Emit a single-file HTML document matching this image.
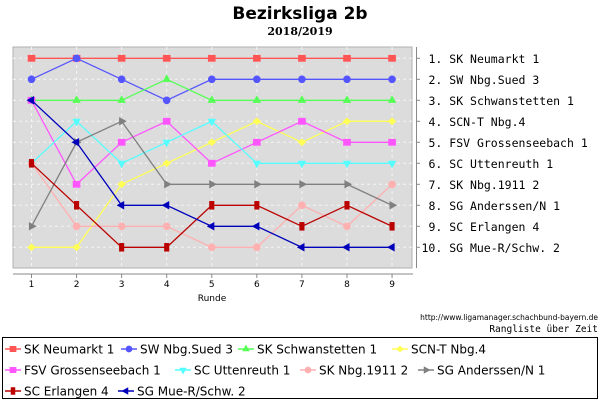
<!DOCTYPE html>
<html><head><meta charset="utf-8"><style>
html,body{margin:0;padding:0;background:#fff;width:600px;height:400px;overflow:hidden}
svg{display:block}
</style></head><body>
<svg width="600" height="400" xmlns="http://www.w3.org/2000/svg" font-family="DejaVu Sans, Liberation Sans, sans-serif">
<text x="300" y="19" text-anchor="middle" font-size="17" font-weight="bold">Bezirksliga 2b</text>
<text x="300" y="35" text-anchor="middle" font-size="11" font-weight="bold" font-family="DejaVu Serif, Liberation Serif, serif">2018/2019</text>
<rect x="13" y="47" width="399" height="221" fill="#dcdcdc" stroke="#b0b0b0" stroke-width="1"/>
<g stroke="#f4f4f4" stroke-dasharray="3,3" stroke-width="1" id="grid"></g>
<line x1="13" y1="274" x2="413" y2="274" stroke="#888"/>
<line x1="416.5" y1="47" x2="416.5" y2="268" stroke="#888"/>
<g id="ticks" stroke="#888"></g>
<g id="xl" font-size="9" text-anchor="middle"></g>
<text x="212" y="301" text-anchor="middle" font-size="9">Runde</text>
<g id="rl" font-family="DejaVu Sans Mono, Liberation Mono, monospace" font-size="11.5"></g>
<g id="series"></g>
<text x="598" y="320" text-anchor="end" font-size="7.5">http://www.ligamanager.schachbund-bayern.de</text>
<text x="598" y="332" text-anchor="end" font-size="9.5" font-family="DejaVu Sans Mono, Liberation Mono, monospace">Rangliste über Zeit</text>
<rect x="2.5" y="337.5" width="595" height="61" fill="none" stroke="#000"/>
<g id="leg" font-size="12"></g>
</svg>
<script>
const NS="http://www.w3.org/2000/svg";
function el(p,t,a,txt){const e=document.createElementNS(NS,t);for(const k in a)e.setAttribute(k,a[k]);if(txt!=null)e.textContent=txt;document.getElementById(p).appendChild(e);return e;}
const X=r=>31.5+(r-1)*45.07, Y=k=>58.3+(k-1)*21;
for(let r=1;r<=9;r++){el("grid","line",{x1:X(r),y1:47,x2:X(r),y2:268});el("ticks","line",{x1:X(r),y1:274,x2:X(r),y2:278});el("xl","text",{x:X(r),y:287},r);}
const names=["SK Neumarkt 1","SW Nbg.Sued 3","SK Schwanstetten 1","SCN-T Nbg.4","FSV Grossenseebach 1","SC Uttenreuth 1","SK Nbg.1911 2","SG Anderssen/N 1","SC Erlangen 4","SG Mue-R/Schw. 2"];
for(let k=1;k<=10;k++){el("grid","line",{x1:13,y1:Y(k),x2:412,y2:Y(k)});el("ticks","line",{x1:416,y1:Y(k),x2:420,y2:Y(k)});
el("rl","text",{x:(k<10?428.5:421.5),y:Y(k)+4.5,"xml:space":"preserve"},k+". "+names[k-1]);}
const S=[
["#ff5555","sq",[1,1,1,1,1,1,1,1,1]],
["#5555ff","ci",[2,1,2,3,2,2,2,2,2]],
["#55ff55","tu",[3,3,3,2,3,3,3,3,3]],
["#ffff55","di",[10,10,7,6,5,4,5,4,4]],
["#ff55ff","sq",[3,7,5,4,6,5,4,5,5]],
["#55ffff","td",[6,4,6,5,4,6,6,6,6]],
["#ffb0b0","ci",[6,9,9,9,10,10,8,9,7]],
["#808080","tr",[9,5,4,7,7,7,7,7,8]],
["#bb0000","rs",[6,8,10,10,8,8,9,8,9]],
["#0000bb","tl",[3,5,8,8,9,9,10,10,10]]];
function mark(p,type,x,y,c,s){s=s||1;let a;
if(type=="sq")return el(p,"rect",{x:x-4.5*s,y:y-4*s,width:9*s,height:8*s,fill:c});
if(type=="rs")return el(p,"rect",{x:x-3*s,y:y-5*s,width:6*s,height:10*s,fill:c});
if(type=="ci")return el(p,"circle",{cx:x,cy:y,r:4.5*s,fill:c});
if(type=="tu")a=[[0,-6],[-5,3],[5,3]];
if(type=="td")a=[[0,6],[-5,-3],[5,-3]];
if(type=="tr")a=[[6,0],[-3,-5],[-3,5]];
if(type=="tl")a=[[-6,0],[3,-5],[3,5]];
if(type=="di")a=[[0,-4.5],[5,0],[0,4.5],[-5,0]];
return el(p,"polygon",{points:a.map(q=>(x+q[0]*s)+","+(y+q[1]*s)).join(" "),fill:c});}
S.forEach(([c,t,d])=>{el("series","polyline",{points:d.map((k,i)=>X(i+1)+","+Y(k)).join(" "),fill:"none",stroke:c,"stroke-width":1.3});
d.forEach((k,i)=>mark("series",t,X(i+1),Y(k),c,0.85));});
const rows=[[0,1,2,3],[4,5,6,7],[8,9]];
const xs=[[5,121,238,392],[5,175,300,418],[5,118]];
rows.forEach((r,ri)=>r.forEach((si,j)=>{const y=349+ri*21,x=xs[ri][j];const [c,t]=S[si];
el("leg","line",{x1:x,y1:y,x2:x+16,y2:y,stroke:c,"stroke-width":1.5});mark("leg",t,x+8,y,c,0.75);
el("leg","text",{x:x+19,y:y+4.5},names[si]);}));
</script>
</body></html>
